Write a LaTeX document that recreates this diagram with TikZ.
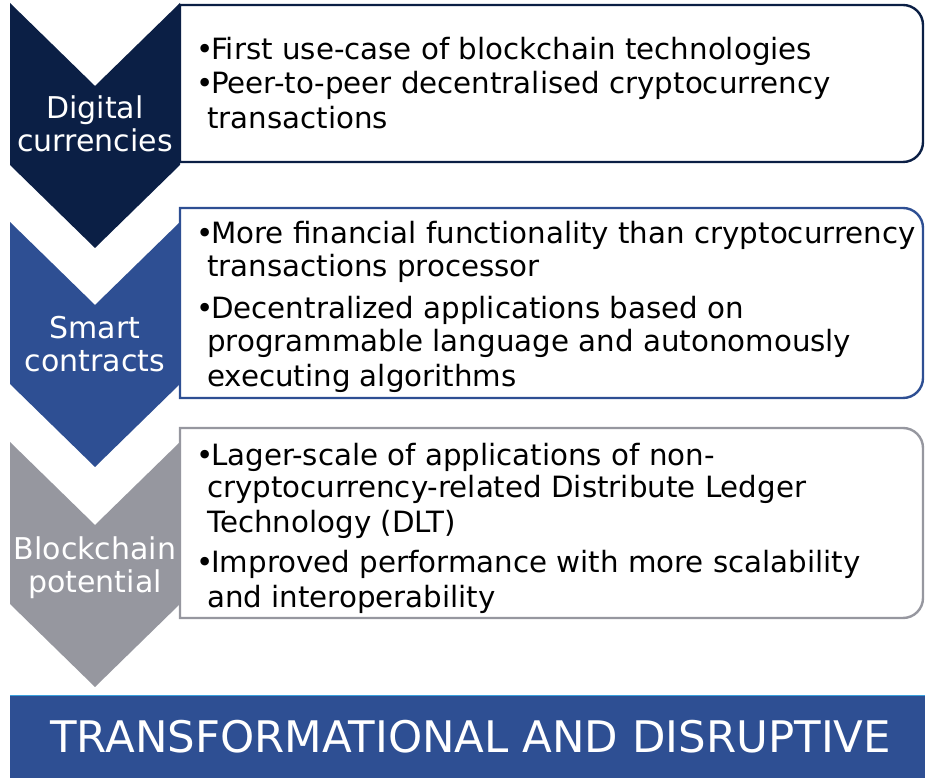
\documentclass[tikz,border=0pt]{standalone}
\usepackage{fontspec}
\setmainfont{DejaVu Sans}
\usepackage{tikz}

\definecolor{navy}{HTML}{0B1F45}
\definecolor{midblue}{HTML}{2E4F93}
\definecolor{slate}{HTML}{96979F}
\definecolor{skyline}{HTML}{3AA0DC}

\tikzset{
  panel/.style={draw=#1, line width=2.4pt, fill=white},
  chevlabel/.style={text=white, align=center, inner sep=0pt, font=\fontsize{30}{33}\selectfont},
  bullets/.style={align=left, anchor=north west, inner sep=0pt, font=\fontsize{29.3}{35}\selectfont},
  banner/.style={fill=midblue, text=white, anchor=south west, inner sep=0pt,
    minimum width=915pt, minimum height=82pt, font=\fontsize{43.5}{48}\selectfont}
}
\newcommand{\itm}{\makebox[15pt][l]{•}}
\newcommand{\cont}{\hspace*{11pt}}

\begin{document}
\begin{tikzpicture}[x=1pt, y=1pt]
  \useasboundingbox (0,0) rectangle (925,778);

  \foreach \t/\b/\c in {773/616/navy, 570/380/midblue, 350/160/slate}
    \draw[panel=\c] (180,\t) -- (903,\t) arc[start angle=90, end angle=0, radius=20pt]
      -- (923,\b+20) arc[start angle=0, end angle=-90, radius=20pt] -- (180,\b) -- cycle;

  \foreach \t/\c in {775/navy, 556/midblue, 336/slate}
    \fill[\c] (10,\t) -- (95,\t-83) -- (180,\t) -- (180,\t-162) -- (95,\t-245) -- (10,\t-162) -- cycle;

  \node[chevlabel] (digital)   at (95,654) {Digital\\currencies};
  \node[chevlabel] (smart)     at (95,434) {Smart\\contracts};
  \node[chevlabel] (potential) at (95,210) {Blockchain\\potential};

  \node[bullets] (usecase) at (196,741) {\itm First use-case of blockchain technologies\\[-1pt]
    \itm Peer-to-peer decentralised cryptocurrency\\
    \cont transactions};
  \node[bullets] (finance) at (196,557) {\itm More financial functionality than cryptocurrency\\[-2pt]
    \cont transactions processor\\[7pt]
    \itm Decentralized applications based on\\[-2pt]
    \cont programmable language and autonomously\\
    \cont executing algorithms};
  \node[bullets] (scale)   at (196,335) {\itm Lager-scale of applications of non-\\[-3pt]
    \cont cryptocurrency-related Distribute Ledger\\
    \cont Technology (DLT)\\[5pt]
    \itm Improved performance with more scalability\\
    \cont and interoperability};

  \node[banner] (banner) at (10,0) {\hspace*{6pt}TRANSFORMATIONAL AND DISRUPTIVE};
  \draw[skyline, line width=1.5pt] (banner.north west) -- (banner.north east);
\end{tikzpicture}
\end{document}
